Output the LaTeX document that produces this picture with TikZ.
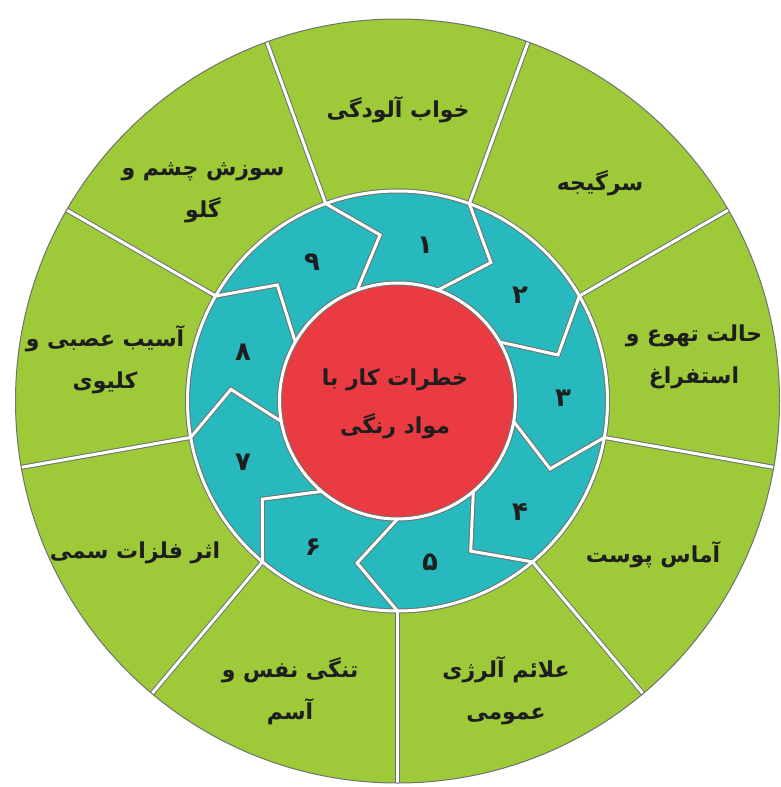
\documentclass[tikz,border=0pt]{standalone}
\usepackage{fontspec}
\usetikzlibrary{calc}
\newfontfamily\arabicfont[Script=Arabic]{DejaVu Sans}
\TeXXeTstate=1
\newcommand\pers[1]{\beginR #1\endR}
\definecolor{ringgreen}{RGB}{158,202,58}
\definecolor{ringteal}{RGB}{40,185,190}
\definecolor{corered}{RGB}{234,58,66}
\definecolor{edgegray}{RGB}{110,115,110}
\definecolor{inkdark}{RGB}{30,30,30}
\begin{document}
\begin{tikzpicture}[x=1pt,y=-1pt,
  sectortext/.style={font=\arabicfont\bfseries\fontsize{22}{42}\selectfont, text=inkdark, align=center, inner sep=0pt},
  centertext/.style={font=\arabicfont\bfseries\fontsize{22}{48}\selectfont, text=inkdark, align=center, inner sep=0pt},
  numtext/.style={font=\arabicfont\bfseries\fontsize{26}{30}\selectfont, text=inkdark, inner sep=0pt},
  sepunder/.style={draw=edgegray, line width=5pt},
  sepover/.style={draw=white, line width=3pt}]
\useasboundingbox (0,0) rectangle (781,787);
\coordinate (C) at (397.5,401);
\fill[ringgreen] (C) circle[radius=382pt];
\fill[ringteal] (C) circle[radius=210pt];
\fill[corered] (C) circle[radius=118pt];
\foreach \st in {sepunder,sepover}{
  \draw[\st] (C) circle[radius=210pt];
  \draw[\st] (C) circle[radius=118pt];
  \foreach \a in {-70,-30,10,50,90,130,170,-150,-110}{
    \draw[\st] ($(C)+(\a:210)$) -- ($(C)+(\a:382)$);
    \draw[\st] ($(C)+(\a:118)$) -- ($(C)+(\a+14:167)$) -- ($(C)+(\a:210)$);
  }
}
\draw[edgegray, line width=1pt] (C) circle[radius=382pt];
% sector labels
\node[sectortext] (s1) at (398,110) {\pers{خواب آلودگی}};
\node[sectortext] (s2) at (600,183) {\pers{سرگیجه}};
\node[sectortext] (s3) at (694,357) {\pers{حالت تهوع و}\\\pers{استفراغ}};
\node[sectortext] (s4) at (653,555) {\pers{آماس پوست}};
\node[sectortext] (s5) at (506,691) {\pers{علائم آلرژی}\\\pers{عمومی}};
\node[sectortext] (s6) at (290,691) {\pers{تنگی نفس و}\\\pers{آسم}};
\node[sectortext] (s7) at (135,553) {\pers{اثر فلزات سمی}};
\node[sectortext] (s8) at (105,360) {\pers{آسیب عصبی و}\\\pers{کلیوی}};
\node[sectortext] (s9) at (203,193) {\pers{سوزش چشم و}\\\pers{گلو}};
% center
\node[centertext] (core) at (395,404) {\pers{خطرات کار با}\\\pers{مواد رنگی}};
% numbers
\node[numtext] (n1) at (425,245) {۱};
\node[numtext] (n2) at (520,295) {۲};
\node[numtext] (n3) at (563,398) {۳};
\node[numtext] (n4) at (520,512) {۴};
\node[numtext] (n5) at (430,562) {۵};
\node[numtext] (n6) at (313,547) {۶};
\node[numtext] (n7) at (243,462) {۷};
\node[numtext] (n8) at (243,352) {۸};
\node[numtext] (n9) at (312,262) {۹};
\end{tikzpicture}
\end{document}
